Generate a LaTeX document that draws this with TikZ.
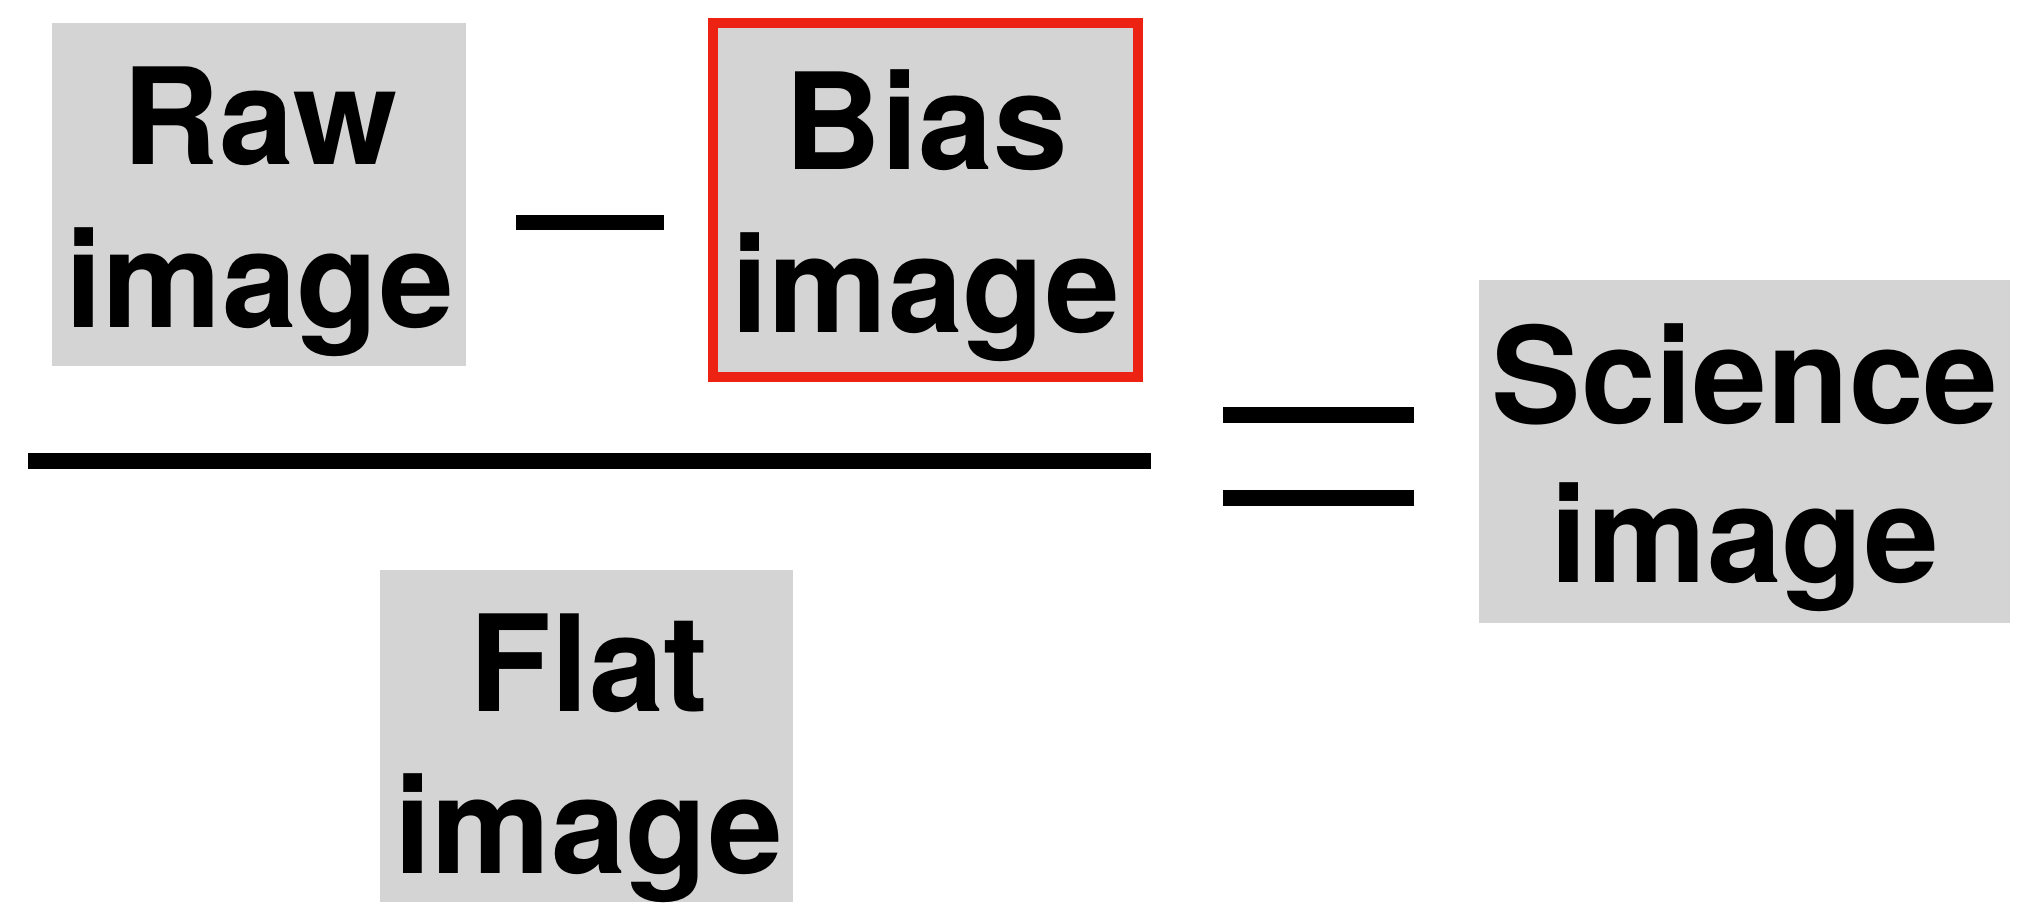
\documentclass[tikz,border=0pt]{standalone}
\usepackage{fontspec}
\setmainfont{TeX Gyre Heros}
\usetikzlibrary{fit}
\definecolor{boxgray}{RGB}{212,212,212}
\definecolor{biasred}{RGB}{236,34,18}
\begin{document}
\begin{tikzpicture}[x=0.5pt,y=-0.5pt,
  graybox/.style={fill=boxgray, draw=none, inner sep=0pt, outer sep=0pt},
  redbox/.style={fill=boxgray, draw=biasred, line width=5pt, inner sep=0pt, outer sep=0pt},
  txt/.style={inner sep=0pt, outer sep=0pt, anchor=base, font=\fontsize{67pt}{81pt}\selectfont\bfseries},
  opline/.style={line width=7.7pt, line cap=butt}]
\useasboundingbox (0,0) rectangle (2034,902);
% boxes
\node[graybox, fit={(52,23)(466,366)}] (raw) {};
\node[redbox, fit={(713,23)(1138,377)}] (bias) {};
\node[graybox, fit={(380,570)(793,902)}] (flat) {};
\node[graybox, fit={(1479,280)(2010,623)}] (sci) {};
% texts
\node[txt] (rawA) at (260,164) {Raw};
\node[txt] (rawB) at (260,327) {image};
\node[txt] (biasA) at (926,169) {Bias};
\node[txt] (biasB) at (926,332) {image};
\node[txt] (flatA) at (589,711) {Flat};
\node[txt] (flatB) at (589,873) {image};
\node[txt] (sciA) at (1745,423) {Science};
\node[txt] (sciB) at (1745,582) {image};
% operators
\coordinate (minusL) at (516,222.5);
\coordinate (minusR) at (664,222.5);
\draw[opline] (minusL) -- (minusR);
\coordinate (barL) at (28,461);
\coordinate (barR) at (1151,461);
\draw[opline] (barL) -- (barR);
\coordinate (eqAL) at (1223,415);
\coordinate (eqAR) at (1414,415);
\draw[opline] (eqAL) -- (eqAR);
\coordinate (eqBL) at (1223,498);
\coordinate (eqBR) at (1414,498);
\draw[opline] (eqBL) -- (eqBR);
\end{tikzpicture}
\end{document}
